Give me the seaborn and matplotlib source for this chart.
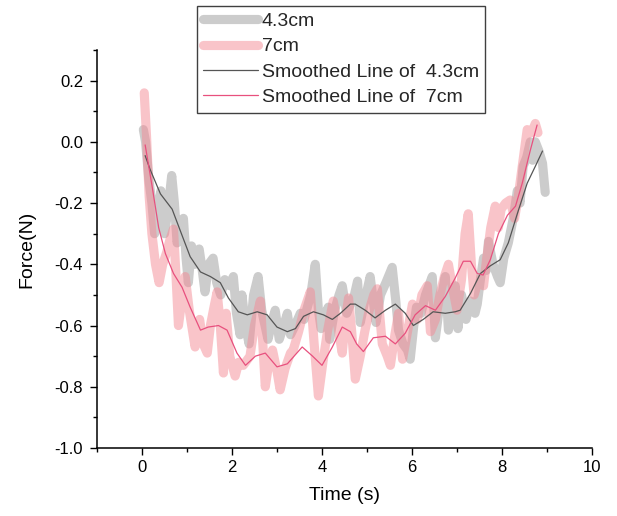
import matplotlib
matplotlib.use("Agg")
import matplotlib.pyplot as plt
from matplotlib.ticker import MultipleLocator
import seaborn as sns

# ---- data ----
gray_t = [0.03, 0.08, 0.15, 0.22, 0.28, 0.36, 0.42, 0.50, 0.58, 0.66, 0.72, 0.78, 0.86, 0.92,
          0.98, 1.03, 1.10, 1.18, 1.27, 1.34, 1.40, 1.48, 1.58, 1.66, 1.75, 1.84, 1.95, 2.03,
          2.10, 2.18, 2.22, 2.30, 2.38, 2.48, 2.58, 2.66, 2.80, 2.90, 2.96, 3.05, 3.15, 3.23,
          3.30, 3.40, 3.52, 3.60, 3.75, 3.85, 3.92, 3.98, 4.08, 4.14, 4.17, 4.28, 4.38, 4.45,
          4.55, 4.63, 4.72, 4.79, 4.85, 4.95, 5.07, 5.14, 5.20, 5.30, 5.42, 5.56, 5.64, 5.70,
          5.80, 5.90, 5.96, 6.04, 6.10, 6.20, 6.30, 6.45, 6.52, 6.60, 6.74, 6.81, 6.90, 6.96,
          7.02, 7.10, 7.20, 7.30, 7.40, 7.45, 7.52, 7.59, 7.65, 7.70, 7.80, 7.90, 7.96, 8.04,
          8.14, 8.25, 8.34, 8.40, 8.47, 8.55, 8.63, 8.68, 8.74, 8.82, 8.90, 8.96]
gray_f = [0.04, 0.00, -0.12, -0.20, -0.30, -0.22, -0.16, -0.30, -0.22, -0.11, -0.20, -0.33, -0.28, -0.25,
          -0.38, -0.46, -0.34, -0.40, -0.35, -0.42, -0.49, -0.40, -0.38, -0.46, -0.50, -0.45, -0.47, -0.44,
          -0.56, -0.63, -0.50, -0.60, -0.66, -0.50, -0.44, -0.55, -0.645, -0.58, -0.55, -0.645, -0.60, -0.56,
          -0.63, -0.60, -0.56, -0.58, -0.50, -0.40, -0.55, -0.61, -0.56, -0.54, -0.645, -0.55, -0.50, -0.47,
          -0.56, -0.53, -0.50, -0.455, -0.59, -0.52, -0.44, -0.52, -0.59, -0.50, -0.46, -0.41, -0.52, -0.615,
          -0.66, -0.68, -0.71, -0.60, -0.54, -0.56, -0.50, -0.44, -0.64, -0.55, -0.44, -0.615, -0.53, -0.47,
          -0.61, -0.50, -0.58, -0.52, -0.56, -0.53, -0.45, -0.38, -0.42, -0.325, -0.40, -0.44, -0.46, -0.38,
          -0.33, -0.25, -0.16, -0.20, -0.08, -0.05, 0.00, -0.06, 0.00, -0.03, -0.07, -0.165]

pink_t = [0.05, 0.10, 0.16, 0.22, 0.30, 0.38, 0.46, 0.55, 0.62, 0.70, 0.76, 0.81, 0.90, 0.96,
          1.05, 1.18, 1.28, 1.36, 1.45, 1.52, 1.60, 1.67, 1.74, 1.81, 1.87, 1.95, 2.07, 2.15,
          2.25, 2.40, 2.50, 2.63, 2.74, 2.82, 2.90, 3.00, 3.07, 3.18, 3.30, 3.36, 3.48, 3.60,
          3.74, 3.82, 3.92, 4.02, 4.12, 4.25, 4.35, 4.45, 4.52, 4.59, 4.66, 4.74, 4.85, 4.95,
          5.05, 5.15, 5.23, 5.34, 5.45, 5.52, 5.62, 5.70, 5.79, 5.90, 6.01, 6.12, 6.22, 6.34,
          6.41, 6.52, 6.62, 6.72, 6.81, 6.88, 7.00, 7.10, 7.18, 7.25, 7.32, 7.38, 7.48, 7.59,
          7.66, 7.75, 7.85, 7.92, 7.98, 8.08, 8.18, 8.28, 8.36, 8.45, 8.56, 8.66, 8.74, 8.80]
pink_f = [0.16, 0.02, -0.18, -0.30, -0.40, -0.46, -0.40, -0.36, -0.32, -0.285, -0.45, -0.60, -0.50, -0.44,
          -0.55, -0.67, -0.58, -0.66, -0.69, -0.60, -0.54, -0.49, -0.60, -0.755, -0.56, -0.70, -0.765, -0.72,
          -0.73, -0.70, -0.60, -0.52, -0.80, -0.72, -0.68, -0.75, -0.81, -0.74, -0.69, -0.68, -0.62, -0.55,
          -0.49, -0.65, -0.83, -0.72, -0.62, -0.52, -0.60, -0.69, -0.58, -0.51, -0.62, -0.775, -0.70, -0.62,
          -0.55, -0.50, -0.48, -0.66, -0.70, -0.73, -0.63, -0.56, -0.71, -0.62, -0.53, -0.58, -0.50, -0.47,
          -0.62, -0.58, -0.50, -0.44, -0.40, -0.46, -0.55, -0.45, -0.30, -0.235, -0.40, -0.50, -0.45, -0.47,
          -0.38, -0.28, -0.21, -0.28, -0.22, -0.20, -0.19, -0.25, -0.18, -0.08, 0.04, 0.03, 0.06, 0.03]

sm_gray_t = [0.07, 0.18, 0.41, 0.67, 0.85, 1.07, 1.30, 1.52, 1.74, 1.92, 2.14, 2.34, 2.56, 2.78,
             3.00, 3.23, 3.41, 3.59, 3.81, 4.03, 4.23, 4.41, 4.63, 4.74, 4.96, 5.18, 5.41, 5.63,
             5.85, 6.03, 6.25, 6.47, 6.74, 6.96, 7.07, 7.30, 7.52, 7.74, 7.96, 8.14, 8.34, 8.56,
             8.74, 8.90]
sm_gray_f = [-0.045, -0.09, -0.17, -0.22, -0.29, -0.375, -0.425, -0.44, -0.46, -0.51, -0.555, -0.565, -0.555, -0.565,
             -0.605, -0.62, -0.61, -0.57, -0.555, -0.565, -0.58, -0.56, -0.53, -0.53, -0.55, -0.575, -0.55, -0.53,
             -0.56, -0.60, -0.58, -0.555, -0.56, -0.555, -0.55, -0.495, -0.43, -0.405, -0.385, -0.33, -0.235, -0.135,
             -0.08, -0.03]

sm_pink_t = [0.07, 0.23, 0.37, 0.52, 0.70, 0.89, 1.07, 1.30, 1.47, 1.70, 1.89, 2.11, 2.30, 2.52,
             2.74, 3.00, 3.23, 3.56, 3.79, 4.00, 4.23, 4.45, 4.63, 4.77, 4.92, 5.14, 5.41, 5.63,
             5.85, 6.07, 6.30, 6.52, 6.74, 6.96, 7.14, 7.30, 7.45, 7.58, 7.74, 7.92, 8.12, 8.30,
             8.45, 8.63, 8.78]
sm_pink_f = [-0.01, -0.15, -0.28, -0.365, -0.43, -0.475, -0.54, -0.615, -0.605, -0.60, -0.615, -0.69, -0.73, -0.70,
             -0.69, -0.735, -0.725, -0.67, -0.70, -0.73, -0.67, -0.605, -0.62, -0.66, -0.685, -0.64, -0.635, -0.66,
             -0.625, -0.565, -0.535, -0.55, -0.505, -0.445, -0.39, -0.39, -0.43, -0.435, -0.385, -0.30, -0.24, -0.21,
             -0.135, -0.027, 0.055]

labels = ["4.3cm", "7cm", "Smoothed Line of  4.3cm", "Smoothed Line of  7cm"]

# ---- style ----
sns.set_theme(style="ticks")
plt.rcParams["font.family"] = ["Liberation Sans", "DejaVu Sans"]

fig = plt.figure(figsize=(6.17, 5.16), dpi=100)
ax = fig.add_axes([97 / 617, 1 - 448 / 516, (592 - 97) / 617, (448 - 50) / 516])

thick = dict(lw=6.6, alpha=0.5, solid_capstyle="round", solid_joinstyle="round")
sns.lineplot(x=gray_t, y=gray_f, ax=ax, color="#9a9a9a", label=labels[0], sort=False, estimator=None, **thick)
sns.lineplot(x=pink_t, y=pink_f, ax=ax, color="#f48a95", label=labels[1], sort=False, estimator=None, **thick)
sns.lineplot(x=sm_gray_t, y=sm_gray_f, ax=ax, color="#555555", lw=0.9, label=labels[2], sort=False, estimator=None)
sns.lineplot(x=sm_pink_t, y=sm_pink_f, ax=ax, color="#e8507e", lw=0.9, label=labels[3], sort=False, estimator=None)

ax.set_xlim(-1, 10)
ax.set_ylim(-1.0, 0.3)
ax.xaxis.set_minor_locator(MultipleLocator(1))
ax.yaxis.set_minor_locator(MultipleLocator(0.1))
ax.set_yticks([-1.0, -0.8, -0.6, -0.4, -0.2, 0.0, 0.2])
ax.set_yticklabels(["-1.0", "-0.8", "-0.6", "-0.4", "-0.2", "0.0", "0.2"])
ax.set_xticks([0, 2, 4, 6, 8, 10])
ax.set_xticklabels(["0", "2", "4", "6", "8", "10"])

for s in ["top", "right"]:
    ax.spines[s].set_visible(False)
for s in ["left", "bottom"]:
    ax.spines[s].set_linewidth(1.1)
    ax.spines[s].set_color("black")

ax.tick_params(which="major", direction="out", length=5, width=1.0, labelsize=12, color="black", labelcolor="black")
ax.tick_params(axis="x", which="major", pad=4)
ax.tick_params(axis="y", which="major", pad=5)
ax.tick_params(which="minor", direction="out", length=3, width=1.0, color="black")

ax.set_xlabel("Time (s)", fontsize=14, labelpad=8, color="black")
ax.set_ylabel("Force(N)", fontsize=14, labelpad=14, color="black")

handles, labs = ax.get_legend_handles_labels()
ax.get_legend().remove()
leg = fig.legend(handles, labs, loc="upper left", bbox_to_anchor=(197 / 617, 1 - 6 / 516),
                 bbox_transform=fig.transFigure, fontsize=14, frameon=True, fancybox=False,
                 borderpad=0.33, borderaxespad=0, handlelength=2.8, handletextpad=0.2,
                 labelspacing=0.4, framealpha=1)
leg.get_frame().set_edgecolor("#404040")
leg.get_frame().set_linewidth(1.0)

fig.savefig("out.png", dpi=100)
